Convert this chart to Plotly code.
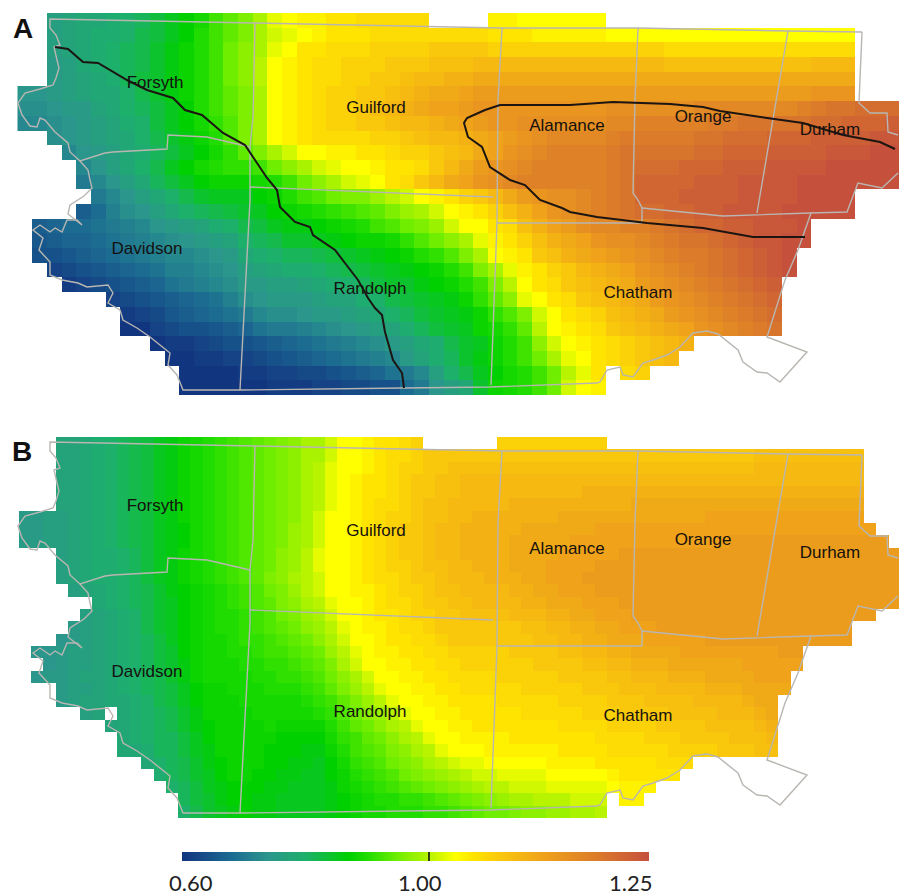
import plotly.graph_objects as go
import numpy as np

_ = None
# Ratio x 100 (60 columns, 26 rows)
panel_a_percent = [
[_,_,76,77,78,78,79,80,81,83, 85,87,89,92,94,96,99,102,103,104, 104,105,105,106,106,106,106,106,_,_, _,_,104,104,103,103,103,103,103,103, _,_,_,_,_,_,_,_,_,_, _,_,_,_,_,_,_,_,_,_],
[_,_,76,77,78,79,79,80,82,83, 85,87,90,92,94,96,99,101,102,103, 104,105,105,105,106,106,106,106,106,106, 106,106,105,105,105,104,104,104,104,104, 103,103,103,103,103,103,103,103,103,103, 103,103,103,103,103,103,103,_,_,_],
[_,_,76,77,78,79,80,81,82,84, 86,88,90,92,95,97,99,102,103,105, 105,106,106,106,107,107,107,107,108,108, 108,108,107,107,107,107,107,107,107,107, 107,107,107,107,106,106,106,106,106,106, 106,106,106,106,106,106,106,_,_,_],
[_,_,75,76,78,79,80,81,82,84, 86,88,90,92,95,97,100,103,104,105, 106,106,107,107,107,108,108,108,109,109, 109,110,110,110,110,110,110,110,110,110, 110,110,110,110,109,109,109,109,109,109, 109,109,109,109,110,110,110,_,_,_],
[_,_,75,76,77,78,79,81,83,84, 86,88,90,92,95,97,100,103,104,105, 106,106,107,107,108,108,109,110,110,111, 111,112,112,112,112,112,112,112,112,112, 112,112,112,112,112,112,112,112,112,112, 112,112,112,112,112,112,112,_,_,_],
[74,74,75,76,77,78,78,80,82,84, 86,88,90,92,94,96,99,103,104,105, 106,107,107,108,108,109,110,111,112,112, 113,114,114,114,114,114,114,114,114,114, 114,114,114,114,114,114,114,114,114,114, 114,114,114,114,115,115,115,_,_,_],
[73,73,74,75,75,77,78,80,81,83, 85,87,90,92,94,96,99,103,104,105, 106,107,107,108,109,110,111,112,113,113, 114,115,115,115,115,115,115,115,115,115, 116,116,116,116,116,116,117,117,117,117, 117,117,117,118,119,120,120,121,121,121],
[72,72,73,74,75,76,77,79,80,83, 85,87,89,91,93,96,99,103,104,105, 106,107,107,108,108,109,110,110,111,112, 113,114,115,115,116,116,116,116,116,116, 117,117,118,118,118,118,118,119,119,120, 120,120,120,120,121,121,122,122,122,123],
[_,_,73,74,75,76,77,78,80,82, 84,86,88,90,93,96,99,103,104,105, 106,106,106,106,107,107,108,109,110,110, 111,112,113,114,115,116,117,117,117,117, 118,119,119,119,119,119,120,120,121,121, 121,122,122,122,123,123,123,123,124,124],
[_,_,_,72,74,75,76,78,79,81, 83,85,87,89,91,94,96,99,101,103, 103,104,104,105,105,106,107,107,108,109, 110,112,113,115,116,117,118,118,118,118, 119,120,120,120,120,120,121,121,122,122, 122,123,123,123,123,124,124,124,125,125],
[_,_,_,_,72,74,76,78,80,82, 85,87,89,90,91,91,92,95,97,99, 101,102,103,103,104,105,105,106,108,110, 112,114,115,116,117,118,118,118,118,118, 119,120,121,121,121,122,122,122,123,123, 123,124,124,124,124,125,125,125,125,125],
[_,_,_,_,70,72,74,76,78,81, 83,85,87,88,88,88,89,90,92,95, 97,99,101,102,103,105,106,108,110,112, 113,115,116,117,118,118,118,118,118,118, 119,120,122,122,122,122,123,123,123,124, 124,124,124,125,125,125,125,125,125,125],
[_,_,_,_,_,70,72,74,76,78, 80,82,84,85,85,85,87,88,90,92, 93,95,96,96,98,100,101,103,104,105, 107,108,110,112,114,115,116,116,117,118, 119,120,122,122,122,123,123,123,123,124, 124,124,124,125,125,125,125,_,_,_],
[_,_,_,_,66,68,71,73,74,76, 78,80,81,82,83,84,85,87,88,89, 90,91,92,93,94,96,98,99,101,103, 104,105,107,109,111,113,115,116,117,118, 119,120,121,121,122,122,123,123,124,124, 124,124,125,125,125,125,125,_,_,_],
[_,66,67,68,68,69,70,71,72,74, 75,76,77,79,80,82,83,85,86,86, 87,88,89,90,92,93,95,96,98,101, 103,103,105,106,109,111,113,114,116,117, 117,118,118,119,120,121,122,122,123,123, 124,124,124,125,_,_,_,_,_,_],
[_,65,66,67,67,68,69,70,71,72, 73,74,75,76,77,80,81,82,84,84, 85,86,87,88,88,89,91,93,95,97, 99,102,104,105,107,109,111,112,113,115, 116,116,117,118,119,120,120,121,122,123, 124,124,125,125,_,_,_,_,_,_],
[_,64,64,65,66,67,68,69,70,71, 72,72,73,74,75,78,79,80,81,81, 82,83,84,85,86,87,88,90,91,93, 96,99,103,104,105,108,109,111,112,113, 114,115,116,117,118,119,119,120,121,122, 123,124,125,_,_,_,_,_,_,_],
[_,_,62,63,64,65,66,67,68,69, 71,71,72,73,74,76,77,78,79,79, 80,81,82,83,84,85,86,87,88,90, 92,96,99,102,104,105,107,108,110,111, 112,113,115,116,117,118,119,120,121,122, 123,124,125,_,_,_,_,_,_,_],
[_,_,_,61,62,63,64,65,66,67, 69,70,71,72,73,75,75,76,76,77, 78,79,80,81,83,84,84,86,87,88, 90,92,96,100,103,105,106,108,109,110, 111,112,114,115,116,117,118,119,120,121, 122,123,_,_,_,_,_,_,_,_],
[_,_,_,_,_,_,62,63,64,65, 66,67,68,69,71,73,74,75,75,75, 76,77,77,79,80,82,83,84,85,86, 88,91,94,97,102,103,105,106,108,109, 110,111,112,114,115,116,117,118,119,120, 121,122,_,_,_,_,_,_,_,_],
[_,_,_,_,_,_,_,61,62,63, 65,66,67,68,69,70,72,73,73,74, 75,75,76,77,78,80,81,83,84,85, 86,88,91,93,96,101,103,105,106,107, 109,110,111,112,114,115,116,117,118,119, 120,121,_,_,_,_,_,_,_,_],
[_,_,_,_,_,_,_,60,60,62, 63,64,64,65,66,67,69,70,70,71, 72,73,74,75,76,77,79,81,83,84, 85,88,89,91,94,100,103,104,105,106, 108,109,110,111,112,113,115,116,117,118, 119,120,_,_,_,_,_,_,_,_],
[_,_,_,_,_,_,_,_,_,60, 61,61,62,63,64,64,65,66,67,68, 69,70,71,72,73,75,76,78,79,82, 84,85,88,90,92,97,101,103,104,105, 106,107,108,109,110,111,_,_,_,_, _,_,_,_,_,_,_,_,_,_],
[_,_,_,_,_,_,_,_,_,_, 60,60,61,61,62,62,63,64,65,66, 67,68,69,70,71,72,75,77,79,81, 84,86,88,90,92,95,99,102,103,105, 106,107,108,109,110,_,_,_,_,_, _,_,_,_,_,_,_,_,_,_],
[_,_,_,_,_,_,_,_,_,_, _,60,60,60,60,61,61,62,62,63, 63,64,65,66,67,69,70,72,76,80, 82,85,87,89,90,92,95,100,102,105, _,106,107,_,_,_,_,_,_,_, _,_,_,_,_,_,_,_,_,_],
[_,_,_,_,_,_,_,_,_,_, _,60,60,60,60,60,60,61,61,61, 62,62,63,63,64,64,68,70,74,76, 78,84,88,89,90,92,95,101,103,104, _,_,_,_,_,_,_,_,_,_, _,_,_,_,_,_,_,_,_,_],
]

# Ratio x 100 (72 columns, 31 rows; finer grid)
panel_b_percent = [
[_,_,_,77,77,78,79,80,81,82,83,85, 86,88,89,90,91,92,93,94,95,96,97,99, 99,101,103,103,104,105,105,106,107,_,_,_, _,_,_,107,107,107,107,107,107,107,107,107, _,_,_,_,_,_,_,_,_,_,_,_, _,_,_,_,_,_,_,_,_,_,_,_],
[_,_,_,77,77,78,79,80,81,82,83,85, 86,88,89,90,91,92,93,94,95,96,97,99, 99,101,103,103,104,105,106,106,107,108,108,108, 108,108,108,108,108,108,108,108,108,108,108,108, 108,108,108,108,108,108,108,108,108,108,108,108, 109,109,109,109,109,109,109,109,109,_,_,_],
[_,_,_,77,77,78,79,80,81,82,83,85, 86,88,89,90,91,92,93,94,95,96,97,99, 100,102,103,103,104,105,106,107,107,108,108,109, 109,109,109,109,109,109,109,109,109,109,109,109, 109,109,109,109,109,109,109,109,109,109,109,109, 110,110,110,110,110,110,110,110,110,_,_,_],
[_,_,_,77,77,78,79,80,81,82,83,85, 86,88,89,90,91,92,93,94,95,96,97,99, 100,102,103,104,105,105,106,107,108,108,109,109, 110,110,110,110,110,110,110,110,110,110,110,110, 110,110,110,110,110,110,110,110,110,110,110,110, 110,110,110,110,110,110,110,110,110,_,_,_],
[_,_,_,77,77,78,79,80,81,82,83,85, 86,88,89,90,91,92,93,94,95,96,97,99, 100,102,103,104,105,105,106,107,108,108,109,109, 110,110,110,110,110,110,110,110,110,110,111,111, 111,111,111,111,111,111,111,111,111,111,111,111, 111,111,111,111,111,111,111,111,111,_,_,_],
[_,_,_,77,77,78,79,80,81,82,83,85, 86,88,89,90,91,92,93,94,95,96,97,99, 100,102,103,104,105,106,106,107,108,109,109,110, 110,110,110,110,111,111,111,111,111,111,111,111, 111,111,112,112,112,112,112,112,112,112,112,112, 112,112,112,112,112,112,112,112,112,_,_,_],
[75,75,76,76,77,78,79,80,81,82,83,85, 86,88,89,90,91,92,93,94,95,96,97,99, 101,103,103,104,105,106,107,107,108,109,109,110, 110,111,111,111,111,111,111,111,112,112,112,112, 112,112,112,112,112,112,112,112,113,113,113,113, 113,113,113,113,113,113,113,113,113,_,_,_],
[75,75,76,76,77,78,79,80,81,82,83,85, 86,87,89,90,91,92,93,94,95,96,98,99, 101,103,103,104,105,106,107,108,108,109,110,110, 111,111,111,111,111,112,112,112,112,112,112,113, 113,113,113,113,113,113,113,113,113,113,113,113, 113,113,113,113,113,113,113,113,113,113,_,_],
[75,75,76,76,77,78,79,80,81,82,83,85, 86,87,89,90,91,92,93,94,95,96,98,99, 101,103,103,104,105,106,107,108,108,109,110,110, 111,111,111,111,112,112,112,112,112,113,113,113, 113,113,113,113,113,113,113,113,113,113,114,114, 114,114,114,114,114,114,114,114,114,114,114,_],
[_,_,_,76,77,78,79,79,80,81,83,85, 86,88,89,90,91,92,93,94,95,97,98,100, 102,103,103,104,105,106,107,108,108,109,110,110, 111,111,111,111,112,112,112,112,113,113,113,113, 113,114,114,114,114,114,114,114,114,114,114,114, 114,114,114,114,114,114,114,114,114,114,114,114],
[_,_,_,76,77,78,79,79,80,81,83,85, 86,88,89,90,91,92,93,94,95,97,98,100, 102,103,103,104,105,106,107,107,108,109,109,110, 110,111,111,111,112,112,112,113,113,113,113,114, 114,114,114,114,114,114,114,114,114,114,114,114, 114,114,114,114,114,114,114,114,114,114,114,114],
[_,_,_,76,77,78,79,79,80,81,83,85, 86,88,89,90,91,92,93,94,96,97,99,100, 101,103,103,104,105,106,106,107,108,108,109,110, 110,110,111,111,111,112,112,113,113,113,114,114, 114,114,114,114,114,114,114,114,114,114,114,114, 114,114,114,114,114,114,114,114,114,114,114,114],
[_,_,_,_,76,77,78,79,80,81,82,84, 86,87,88,89,90,91,92,93,95,96,98,100, 101,103,103,104,104,105,106,107,107,108,109,109, 110,110,110,110,111,111,112,112,113,113,113,114, 114,114,114,114,114,114,114,114,114,114,114,114, 114,114,114,114,114,114,114,114,114,114,114,114],
[_,_,_,_,_,_,78,79,80,81,82,84, 85,87,88,89,90,91,92,93,94,96,97,99, 100,102,103,103,104,105,106,106,107,108,108,109, 109,110,110,110,110,111,111,112,112,112,113,113, 113,114,114,114,114,114,114,114,114,114,114,114, 114,114,114,114,114,114,114,114,114,114,114,114],
[_,_,_,_,_,76,77,78,79,80,82,84, 85,87,88,89,90,90,91,92,93,95,96,98, 99,101,103,103,104,105,105,106,107,107,108,108, 109,109,109,109,110,110,110,111,111,112,112,113, 113,113,114,114,114,114,114,114,114,114,114,114, 114,114,114,114,114,114,114,114,114,114,_,_],
[_,_,_,_,75,76,77,78,79,80,82,84, 85,87,88,89,90,90,91,92,93,94,95,97, 98,100,102,103,104,104,105,106,106,107,108,108, 108,108,108,108,108,109,109,110,110,111,111,112, 112,113,113,113,114,114,114,114,114,114,114,114, 114,114,114,114,114,114,114,114,_,_,_,_],
[_,_,_,74,75,76,77,78,79,80,81,83, 85,87,88,89,89,90,91,91,92,93,94,95, 97,99,101,103,103,104,105,105,106,106,107,108, 108,108,108,108,108,108,109,109,110,110,111,111, 112,112,112,113,113,113,113,113,114,114,114,114, 114,114,114,114,114,114,114,114,_,_,_,_],
[_,74,74,75,76,76,77,78,79,80,81,83, 84,87,88,89,89,90,90,91,92,92,93,94, 95,98,100,102,103,104,104,105,105,106,106,107, 107,107,107,107,108,108,108,108,109,109,110,110, 111,111,112,112,112,112,113,113,113,113,113,113, 113,113,114,114,_,_,_,_,_,_,_,_],
[_,_,74,75,76,76,77,78,79,80,81,83, 84,86,88,89,89,89,90,90,91,91,92,93, 94,96,99,101,103,103,104,104,105,105,106,106, 107,107,107,107,107,107,108,108,108,108,109,109, 110,110,111,111,111,112,112,112,112,112,112,113, 113,113,113,113,_,_,_,_,_,_,_,_],
[_,74,75,75,76,77,77,78,79,80,81,82, 84,86,88,89,89,89,89,90,90,91,91,92, 93,95,97,99,101,103,103,104,104,105,105,106, 106,106,106,107,107,107,107,107,108,108,108,108, 109,109,110,110,110,111,111,111,112,112,112,112, 113,113,113,_,_,_,_,_,_,_,_,_],
[_,_,_,75,76,76,77,78,79,80,81,82, 83,85,87,88,88,89,89,89,90,90,90,91, 92,94,96,98,100,102,103,103,104,104,105,105, 106,106,106,106,106,107,107,107,107,107,108,108, 108,109,109,109,110,110,110,110,111,111,111,112, 112,112,112,_,_,_,_,_,_,_,_,_],
[_,_,_,75,76,77,77,78,78,79,80,82, 83,85,87,88,88,88,89,89,89,89,89,90, 91,92,94,96,98,100,102,103,103,104,104,105, 105,105,105,106,106,106,106,106,107,107,107,107, 108,108,108,109,109,109,109,110,110,110,110,111, 112,112,_,_,_,_,_,_,_,_,_,_],
[_,_,_,_,_,76,77,_,78,79,80,81, 82,84,86,88,88,88,88,89,89,89,89,89, 90,91,93,95,97,98,100,102,103,103,104,104, 105,105,105,105,105,106,106,106,106,106,107,107, 107,108,108,108,108,109,109,109,109,110,110,110, 111,112,_,_,_,_,_,_,_,_,_,_],
[_,_,_,_,_,_,_,77,78,79,80,81, 82,84,86,87,88,88,88,88,89,88,88,88, 88,90,92,94,95,97,99,100,102,103,103,104, 104,105,105,105,105,105,105,105,106,106,106,106, 107,107,107,107,108,108,108,108,109,109,109,109, 110,111,_,_,_,_,_,_,_,_,_,_],
[_,_,_,_,_,_,_,_,78,79,80,81, 81,83,85,87,88,88,88,88,88,87,87,87, 87,89,91,92,94,95,97,99,100,102,103,103, 104,104,104,104,105,105,105,105,105,105,105,106, 106,106,106,107,107,107,108,108,108,108,109,109, 109,110,_,_,_,_,_,_,_,_,_,_],
[_,_,_,_,_,_,_,_,78,78,79,81, 81,83,85,86,88,88,88,88,87,87,87,86, 86,88,90,92,93,94,96,97,99,100,102,103, 103,103,104,104,104,104,104,104,105,105,105,105, 106,106,106,106,106,107,107,107,107,108,108,108, 109,109,_,_,_,_,_,_,_,_,_,_],
[_,_,_,_,_,_,_,_,_,_,78,80, 81,82,84,86,87,88,88,88,87,87,86,86, 85,87,89,91,92,93,95,96,97,99,100,101, 102,102,103,103,103,103,103,104,104,104,104,105, 105,105,105,105,106,106,106,_,_,_,_,_, _,_,_,_,_,_,_,_,_,_,_,_],
[_,_,_,_,_,_,_,_,_,_,_,79, 81,82,84,85,87,88,88,87,87,86,86,85, 85,87,88,90,91,92,93,95,96,97,98,99, 100,101,101,102,102,102,102,103,103,103,103,103, 104,105,105,105,105,105,_,_,_,_,_,_, _,_,_,_,_,_,_,_,_,_,_,_],
[_,_,_,_,_,_,_,_,_,_,_,_, 80,81,83,85,86,87,87,87,86,86,85,85, 85,86,88,89,90,91,92,93,94,95,96,97, 98,99,100,100,101,101,101,102,102,102,102,102, 103,104,104,104,_,_,_,_,_,_,_,_, _,_,_,_,_,_,_,_,_,_,_,_],
[_,_,_,_,_,_,_,_,_,_,_,_, _,81,83,84,86,87,87,86,86,85,85,85, 85,86,87,88,89,90,90,91,91,92,93,94, 95,96,97,98,99,99,100,100,100,101,101,101, _,104,104,_,_,_,_,_,_,_,_,_, _,_,_,_,_,_,_,_,_,_,_,_],
[_,_,_,_,_,_,_,_,_,_,_,_, _,80,82,84,85,86,87,86,86,85,85,85, 85,86,87,88,89,89,90,90,90,91,91,92, 93,94,95,95,96,97,97,98,98,99,99,100, _,_,_,_,_,_,_,_,_,_,_,_, _,_,_,_,_,_,_,_,_,_,_,_],
]

county_names = ["Forsyth", "Guilford", "Alamance", "Orange", "Durham", "Davidson", "Randolph", "Chatham"]
county_label_x = [155, 376, 567, 703, 830, 147, 370, 638]
county_label_y = [84, 109, 127, 118, 131, 250, 290, 294]

county_lines = [
    # outer north edge, west river, Forsyth/Davidson line
    ([862,788,638,502,255,50,50,56,60,54,57,59,56,53,40,25,18,22,30,37,40,45,55,68,70,75,80,105,113,167,168,207,250],
     [32,31,28,28,23,19,28,35,45,47,60,68,78,85,89,93,103,115,126,127,118,120,132,143,152,157,161,153,152,149,135,137,147]),
    # Davidson west and south edge
    ([80,88,90,92,84,70,68,82,77,67,62,55,50,40,33,43,39,50,50,62,78,87,108,113,108,120,123,137,150,170,168,177,183,240,403,490,597],
     [161,170,180,188,196,205,214,225,220,220,232,228,232,225,230,238,250,262,275,280,283,287,285,293,303,310,320,328,337,353,365,375,390,390,388,387,383]),
    # Chatham south east and east
    ([597,600,607,620,623,633,643,653,667,680,693,707,718,738,743,757,767,780,807,767,785,798,811],
     [383,382,370,367,375,377,363,360,355,347,333,331,334,350,362,372,373,382,352,337,280,250,213]),
    # Orange and Durham south, Durham east
    ([642,723,810,847,858,882,898],[208,216,213,212,183,188,173]),
    ([862,859,870,887,888,898],[32,103,113,113,132,135]),
    # Alamance/Orange
    ([638,635,633,638,642,642],[28,100,193,200,208,223]),
    # Orange/Durham
    ([788,773,767,757],[31,120,157,213]),
    # Guilford/Alamance and Randolph/Chatham
    ([502,498,497,491],[28,100,223,385]),
    # Guilford/Randolph
    ([250,493],[187,197]),
    # Guilford west and Davidson/Randolph
    ([255,253,250,250,240],[23,117,147,200,390]),
    # Alamance/Chatham
    ([497,642],[223,223]),
]

line_one_x = [55,68,83,98,127,147,173,185,202,223,245,257,267,277,280,295,310,313,335,348,358,368,375,382,385,393,402,404]
line_one_y = [47,49,62,63,80,90,98,110,115,133,145,163,178,190,207,222,227,235,250,267,280,298,308,315,332,360,373,388]
line_two_x = [895,880,843,803,767,720,703,670,613,570,500,485,467,464,468,482,490,510,525,540,562,570,597,647,703,753,805]
line_two_y = [149,142,135,123,118,111,107,104,102,105,105,110,118,123,137,147,167,180,185,200,208,212,217,223,228,237,237]

bar_tick_labels = ["0.60", "1.00", "1.25"]
bar_label_x = [191, 420, 630]
bar_values = [0.60, 1.00, 1.25]
bar_value_px = [183, 429, 648]

for name, rows, n in (("A", panel_a_percent, 60), ("B", panel_b_percent, 72)):
    for i, row in enumerate(rows):
        if len(row) != n:
            raise ValueError(f"panel {name} row {i} has {len(row)} cells")


def ratios(rows):
    return [[None if v is None else v / 100 for v in row] for row in rows]


colors = [[(v - 0.60) / 0.65, c] for v, c in [
    (0.60, "#123580"), (0.68, "#1c6c92"), (0.74, "#2a968c"), (0.80, "#1db06a"),
    (0.87, "#00d000"), (0.90, "#20dc00"), (0.95, "#70ee00"), (1.00, "#b8f400"), (1.03, "#ffff00"),
    (1.05, "#ffe400"), (1.08, "#f9c80c"), (1.13, "#efa21a"), (1.19, "#dc7c2a"), (1.25, "#c5503c")]]

W, H = 899, 896
PANEL_H = 410
B_OFFSET = 423

fig = go.Figure()


def common(xa, ya):
    return dict(xaxis=xa, yaxis=ya, showlegend=False, hoverinfo="skip")


for xa, ya, rows, x0, y0, d_x, d_y in (
    ("x", "y", panel_a_percent, 24.85, 20.35, 14.7, 14.7),
    ("x2", "y2", panel_b_percent, 25.1, 20.15, 12.25, 12.3),
):
    fig.add_trace(go.Heatmap(z=ratios(rows), x0=x0, dx=d_x, y0=y0, dy=d_y,
                             colorscale=colors, zmin=0.60, zmax=1.25, showscale=False,
                             hoverongaps=False, **{"xaxis": xa, "yaxis": ya}))
    for lx, ly in county_lines:
        fig.add_trace(go.Scatter(x=lx, y=ly, mode="lines",
                                 line=dict(color="#b9b6b2", width=1.4), **common(xa, ya)))

for lx, ly in ((line_one_x, line_one_y), (line_two_x, line_two_y)):
    fig.add_trace(go.Scatter(x=lx, y=ly, mode="lines",
                             line=dict(color="#1c1512", width=2), **common("x", "y")))

for xa, ya in (("x", "y"), ("x2", "y2")):
    fig.add_trace(go.Scatter(x=county_label_x, y=county_label_y, text=county_names, mode="text",
                             textposition="middle center",
                             textfont=dict(family="Liberation Sans", size=17, color="#15110f"),
                             **common(xa, ya)))

# colour bar on its own axis
ramp_px = np.linspace(bar_value_px[0], bar_value_px[-1], 233)
fig.add_trace(go.Heatmap(z=[np.interp(ramp_px, bar_value_px, bar_values).tolist()], x=ramp_px, y=[0],
                         colorscale=colors, zmin=0.60, zmax=1.25, showscale=False,
                         hoverinfo="skip", xaxis="x3", yaxis="y3"))

hidden = dict(visible=False, fixedrange=True)
fig.update_layout(
    width=W, height=H, autosize=False, margin=dict(l=0, r=0, t=0, b=0),
    paper_bgcolor="white", plot_bgcolor="rgba(0,0,0,0)",
    xaxis=dict(range=[0, W], domain=[0, 1], **hidden),
    yaxis=dict(range=[PANEL_H, 0], domain=[1 - PANEL_H / H, 1], **hidden),
    xaxis2=dict(range=[0, W], domain=[0, 1], **hidden),
    yaxis2=dict(range=[PANEL_H, 0], domain=[1 - (B_OFFSET + PANEL_H) / H, 1 - B_OFFSET / H], **hidden),
    xaxis3=dict(range=[0, W], domain=[0, 1], **hidden),
    yaxis3=dict(range=[-0.5, 0.5], domain=[1 - 861 / H, 1 - 852 / H], **hidden),
)
fig.add_shape(type="line", x0=bar_value_px[1], x1=bar_value_px[1], y0=-0.5, y1=0.5, xref="x3", yref="y3",
              line=dict(color="#111111", width=1.6))
for text, px in zip(bar_tick_labels, bar_label_x):
    fig.add_annotation(x=px, y=1 - 882 / H, xref="x3", yref="paper", yanchor="middle", xanchor="center",
                       text=text, showarrow=False, font=dict(family="Lato", size=22, color="#222222"))
fig.add_annotation(x=23, y=1 - 28 / H, xref="x", yref="paper", yanchor="middle", xanchor="center",
                   text="<b>A</b>", showarrow=False,
                   font=dict(family="Liberation Sans", size=28, color="#111111"))
fig.add_annotation(x=22, y=1 - 451 / H, xref="x", yref="paper", yanchor="middle", xanchor="center",
                   text="<b>B</b>", showarrow=False,
                   font=dict(family="Liberation Sans", size=28, color="#111111"))

fig.write_html("out.html", config={"displayModeBar": False},
               post_script="document.body.style.margin='0';document.body.style.overflow='hidden';")
